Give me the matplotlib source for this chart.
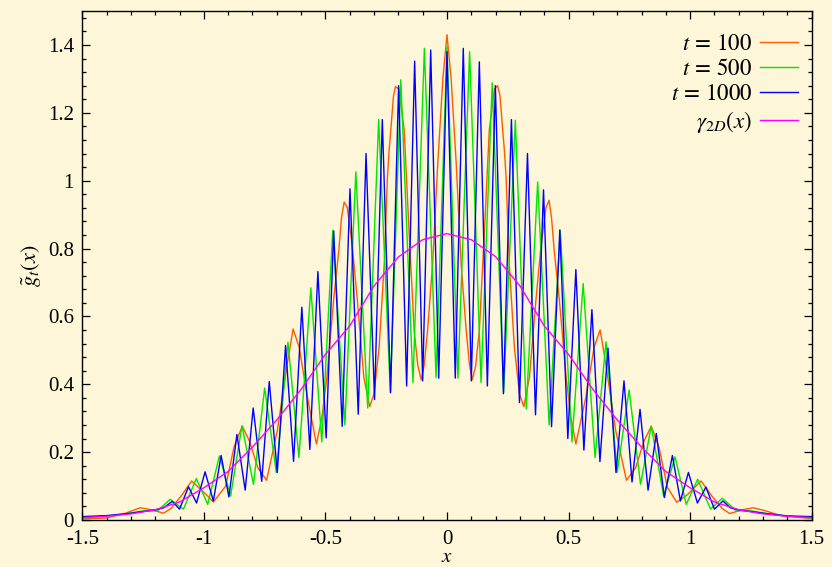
import matplotlib
matplotlib.use("Agg")
import matplotlib.pyplot as plt
from matplotlib.ticker import MultipleLocator, FixedLocator

# ---------------- data ----------------
blue_x = [-1.50, -1.40, -1.30, -1.20, -1.165, -1.130, -1.100, -1.063, -1.030, -0.995,
          -0.961, -0.929, -0.897, -0.864, -0.830, -0.797, -0.762, -0.731, -0.698, -0.664,
          -0.631, -0.597, -0.564, -0.531, -0.497, -0.466, -0.431, -0.399, -0.365, -0.333,
          -0.298, -0.266, -0.232, -0.199, -0.166, -0.133, -0.100, -0.067, -0.034, 0.000,
          0.034, 0.067, 0.100, 0.133, 0.166, 0.199, 0.232, 0.265, 0.298, 0.331,
          0.364, 0.397, 0.430, 0.464, 0.497, 0.530, 0.563, 0.596, 0.629, 0.662,
          0.695, 0.728, 0.761, 0.794, 0.827, 0.861, 0.894, 0.927, 0.960, 0.993,
          1.030, 1.065, 1.100, 1.135, 1.165, 1.20, 1.30, 1.40, 1.50]
blue_y = [0.010, 0.013, 0.020, 0.030, 0.036, 0.055, 0.032, 0.098, 0.050, 0.142,
          0.056, 0.190, 0.068, 0.252, 0.088, 0.330, 0.114, 0.408, 0.140, 0.514,
          0.173, 0.627, 0.208, 0.732, 0.242, 0.852, 0.276, 0.976, 0.312, 1.080,
          0.355, 1.180, 0.375, 1.280, 0.395, 1.352, 0.410, 1.385, 0.418, 1.380,
          0.418, 1.390, 0.410, 1.350, 0.395, 1.280, 0.372, 1.180, 0.346, 1.080,
          0.310, 0.973, 0.275, 0.855, 0.240, 0.738, 0.206, 0.620, 0.172, 0.507,
          0.140, 0.410, 0.112, 0.326, 0.088, 0.255, 0.066, 0.190, 0.056, 0.140,
          0.050, 0.097, 0.032, 0.056, 0.036, 0.030, 0.020, 0.012, 0.010]

green_x = [-1.50, -1.35, -1.25, -1.19, -1.139, -1.084, -1.031, -0.984, -0.936, -0.890,
           -0.843, -0.796, -0.750, -0.702, -0.654, -0.609, -0.560, -0.515, -0.470, -0.420,
           -0.375, -0.326, -0.281, -0.233, -0.190, -0.140, -0.093, -0.045, 0.000,
           0.045, 0.093, 0.140, 0.186, 0.233, 0.281, 0.326, 0.373, 0.420, 0.466,
           0.514, 0.560, 0.609, 0.654, 0.700, 0.749, 0.796, 0.840, 0.891, 0.938,
           0.984, 1.031, 1.084, 1.132, 1.19, 1.25, 1.35, 1.50]
green_y = [0.006, 0.015, 0.027, 0.027, 0.061, 0.032, 0.122, 0.046, 0.189, 0.071,
           0.278, 0.105, 0.389, 0.140, 0.524, 0.184, 0.684, 0.230, 0.853, 0.280,
           1.026, 0.330, 1.180, 0.376, 1.297, 0.405, 1.390, 0.420, 1.395,
           0.418, 1.380, 0.405, 1.288, 0.376, 1.178, 0.327, 0.996, 0.280, 0.853,
           0.230, 0.697, 0.184, 0.525, 0.140, 0.383, 0.105, 0.277, 0.071, 0.186,
           0.046, 0.120, 0.032, 0.064, 0.027, 0.027, 0.015, 0.006]

red_x = [-1.500, -1.400, -1.330, -1.262, -1.214, -1.166, -1.135, -1.092, -1.050, -0.992,
         -0.961, -0.910, -0.876, -0.842, -0.812, -0.778, -0.742, -0.698, -0.657, -0.633,
         -0.608, -0.574, -0.537, -0.515, -0.494, -0.466, -0.445, -0.434, -0.423, -0.410,
         -0.390, -0.369, -0.342, -0.318, -0.300, -0.279, -0.258, -0.245, -0.238, -0.231,
         -0.220, -0.212, -0.198, -0.176, -0.156, -0.135, -0.120, -0.106, -0.094, -0.080,
         -0.059, -0.038, -0.017, 0.000,
         0.017, 0.038, 0.058, 0.079, 0.093, 0.104, 0.118, 0.133, 0.154, 0.174,
         0.195, 0.208, 0.218, 0.229, 0.236, 0.243, 0.256, 0.277, 0.298, 0.316,
         0.339, 0.366, 0.387, 0.407, 0.420, 0.430, 0.441, 0.462, 0.490, 0.510,
         0.530, 0.571, 0.605, 0.630, 0.653, 0.694, 0.738, 0.776, 0.810, 0.840,
         0.872, 0.906, 0.945, 0.988, 1.045, 1.090, 1.132, 1.163, 1.214, 1.260,
         1.310, 1.378, 1.474, 1.500]
red_y = [0.003, 0.006, 0.018, 0.036, 0.030, 0.020, 0.034, 0.072, 0.115, 0.076,
         0.053, 0.100, 0.215, 0.276, 0.232, 0.154, 0.117, 0.263, 0.460, 0.563,
         0.509, 0.361, 0.224, 0.300, 0.420, 0.650, 0.794, 0.890, 0.937, 0.920,
         0.810, 0.650, 0.420, 0.334, 0.372, 0.510, 0.756, 1.010, 1.090, 1.150,
         1.250, 1.277, 1.270, 1.150, 0.850, 0.558, 0.455, 0.413, 0.455, 0.558,
         0.755, 1.050, 1.300, 1.430,
         1.300, 1.050, 0.755, 0.558, 0.455, 0.413, 0.455, 0.558, 0.850, 1.150,
         1.270, 1.280, 1.250, 1.150, 1.090, 1.010, 0.756, 0.510, 0.372, 0.334,
         0.420, 0.650, 0.810, 0.920, 0.942, 0.890, 0.794, 0.650, 0.420, 0.300,
         0.224, 0.361, 0.509, 0.560, 0.460, 0.263, 0.117, 0.154, 0.232, 0.276,
         0.215, 0.097, 0.052, 0.074, 0.115, 0.070, 0.034, 0.019, 0.030, 0.036,
         0.027, 0.012, 0.006, 0.005]

gamma_x = [-1.5, -1.4, -1.3, -1.2, -1.1, -1.0, -0.9, -0.8, -0.7, -0.6, -0.5, -0.4, -0.3,
           -0.2, -0.1, 0.0, 0.1, 0.2, 0.3, 0.4, 0.5, 0.6, 0.7, 0.8, 0.9, 1.0, 1.1, 1.2,
           1.3, 1.4, 1.5]
gamma_y = [0.007, 0.011, 0.018, 0.030, 0.053, 0.095, 0.143, 0.215, 0.295, 0.385, 0.488,
           0.572, 0.690, 0.775, 0.826, 0.844, 0.826, 0.776, 0.690, 0.572, 0.488, 0.385,
           0.295, 0.215, 0.143, 0.095, 0.053, 0.030, 0.018, 0.011, 0.007]

series_labels = [r"$t\,=\,100$", r"$t\,=\,500$", r"$t\,=\,1000$", r"$\gamma_{2D}(x)$"]
xtick_vals = [-1.5, -1.0, -0.5, 0.0, 0.5, 1.0, 1.5]
xtick_labels = ["-1.5", "-1", "-0.5", "0", "0.5", "1", "1.5"]
ytick_vals = [0.0, 0.2, 0.4, 0.6, 0.8, 1.0, 1.2, 1.4]
ytick_labels = ["0", "0.2", "0.4", "0.6", "0.8", "1", "1.2", "1.4"]

# ---------------- style ----------------
plt.rcParams["font.family"] = ["Liberation Serif", "DejaVu Serif"]
plt.rcParams["mathtext.fontset"] = "stix"
plt.rcParams["axes.unicode_minus"] = False

bg = "#fdf6d8"
fig = plt.figure(figsize=(8.32, 5.67), dpi=100, facecolor=bg)
ax = fig.add_axes([0.0989, 0.0829, 0.8767, 0.8977], facecolor=bg)

lw = 1.0
ax.plot(red_x, red_y, color="#ff5a00", lw=lw, label=series_labels[0])
ax.plot(green_x, green_y, color="#00e600", lw=lw, label=series_labels[1])
ax.plot(blue_x, blue_y, color="#0000ff", lw=lw, label=series_labels[2])
ax.plot(gamma_x, gamma_y, color="#ff00ff", lw=lw, label=series_labels[3])

ax.set_xlim(-1.5, 1.5)
ax.set_ylim(0, 1.5)
ax.xaxis.set_major_locator(FixedLocator(xtick_vals))
ax.set_xticklabels(xtick_labels)
ax.yaxis.set_major_locator(FixedLocator(ytick_vals))
ax.set_yticklabels(ytick_labels)
ax.xaxis.set_minor_locator(MultipleLocator(0.1))
ax.yaxis.set_minor_locator(MultipleLocator(0.04))
ax.tick_params(which="both", direction="in", top=True, right=True, colors="black",
               labelsize=15, width=0.9)
ax.tick_params(which="major", length=6)
ax.tick_params(axis="x", which="major", pad=7.5)
ax.tick_params(axis="y", which="major", pad=6)
ax.tick_params(which="minor", length=3)
for s in ax.spines.values():
    s.set_linewidth(1.0)
    s.set_color("black")

ax.set_xlabel(r"$x$", fontsize=15, labelpad=-1)
ax.set_ylabel(r"$\tilde{g}_t(x)$", fontsize=16, labelpad=3)

leg = ax.legend(loc="upper right", bbox_to_anchor=(1.0, 0.982), frameon=False,
                markerfirst=False, fontsize=16.5, handlelength=1.66, handletextpad=0.35,
                labelspacing=0.17, borderaxespad=0.3, borderpad=0.3)
for t in leg.get_texts():
    t.set_ha("right")

fig.savefig("out.png", dpi=100, facecolor=bg)
